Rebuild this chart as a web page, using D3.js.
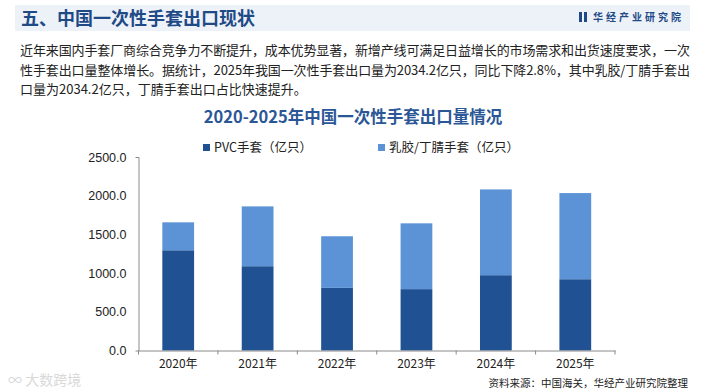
<!DOCTYPE html>
<html><head><meta charset="utf-8">
<script src="https://cdn.jsdelivr.net/npm/d3@7"></script>
<style>
html,body{margin:0;padding:0;background:#fff;}
svg{display:block;}
</style></head>
<body>
<svg id="c" width="705" height="392"></svg>
<script>
const years = ["2020年","2021年","2022年","2023年","2024年","2025年"];
const pvc = [1295, 1089, 809, 793, 973, 921];
const latex = [361, 773, 667, 850, 1108, 1113];
const seriesNames = ["PVC手套（亿只）", "乳胶/丁腈手套（亿只）"];
const yTicks = [0, 500, 1000, 1500, 2000, 2500];
const pageTitle = "五、中国一次性手套出口现状";
const chartTitle = "2020-2025年中国一次性手套出口量情况";
const paragraph = [
  "近年来国内手套厂商综合竞争力不断提升，成本优势显著，新增产线可满足日益增长的市场需求和出货速度要求，一次",
  "性手套出口量整体增长。据统计，2025年我国一次性手套出口量为2034.2亿只，同比下降2.8%，其中乳胶/丁腈手套出",
  "口量为2034.2亿只，丁腈手套出口占比快速提升。"
];
const source = "资料来源：中国海关，华经产业研究院整理";
const colors = ["#205293", "#5B93D6"];

const svg = d3.select("#c");
const cjk = "'Noto Sans CJK SC','Noto Sans',sans-serif";
const lat = "'Liberation Sans',Arial,sans-serif";

// header band
svg.append("rect").attr("x", 15).attr("y", 5).attr("width", 675).attr("height", 26).attr("fill", "#EDF2F9");
svg.append("text").attr("x", 21).attr("y", 25).attr("font-family", cjk).attr("font-weight", "bold")
  .attr("font-size", 18).attr("fill", "#1F4A86").text(pageTitle);
// logo
svg.append("rect").attr("x", 579).attr("y", 12).attr("width", 3).attr("height", 10).attr("fill", "#1F4A86");
svg.append("rect").attr("x", 584).attr("y", 12).attr("width", 3).attr("height", 10).attr("fill", "#1F4A86");
svg.append("text").attr("x", 593).attr("y", 21).attr("font-family", cjk).attr("font-weight", "bold")
  .attr("font-size", 10).attr("fill", "#1F4A86").attr("letter-spacing", 3).text("华经产业研究院");

// paragraph
paragraph.forEach((line, i) => {
  const t = svg.append("text").attr("x", 20).attr("y", 55 + i * 19.5).attr("font-family", cjk)
    .attr("font-size", 13).attr("fill", "#222").text(line);
  if (i < 2) t.attr("textLength", 670).attr("lengthAdjust", "spacing");
});

// chart title
svg.append("text").attr("x", 353).attr("y", 123).attr("text-anchor", "middle").attr("font-family", cjk)
  .attr("font-weight", "bold").attr("font-size", 16.5).attr("fill", "#2B5797").text(chartTitle);

// legend
const legX = [203, 378];
seriesNames.forEach((n, i) => {
  svg.append("rect").attr("x", legX[i]).attr("y", 144).attr("width", 7).attr("height", 7).attr("fill", colors[i]);
  svg.append("text").attr("x", legX[i] + 11).attr("y", 152).attr("font-family", cjk)
    .attr("font-size", 12.5).attr("fill", "#222").text(n);
});

// scales
const x = d3.scaleBand().domain(years).range([138.5, 615]).paddingInner(0.6).paddingOuter(0.3);
const y = d3.scaleLinear().domain([0, 2500]).range([350.5, 157]);

const stackData = years.map((yr, i) => ({year: yr, pvc: pvc[i], latex: latex[i]}));
const stacked = d3.stack().keys(["pvc", "latex"])(stackData);

svg.append("g").selectAll("g").data(stacked).join("g").attr("fill", (d, i) => colors[i])
  .selectAll("rect").data(d => d).join("rect")
  .attr("x", d => x(d.data.year)).attr("width", x.bandwidth())
  .attr("y", d => y(d[1])).attr("height", d => y(d[0]) - y(d[1]));

// y axis
const yAxis = svg.append("g").attr("transform", "translate(138.5,0)")
  .call(d3.axisLeft(y).tickValues(yTicks).tickFormat(d3.format(".1f")).tickSizeInner(0).tickSizeOuter(3).tickPadding(12));
yAxis.select(".domain").attr("stroke", "#8a8a8a");
yAxis.selectAll("text").attr("font-family", lat).attr("font-size", 12.5).attr("fill", "#222");

// x axis
const xAxis = svg.append("g").attr("transform", "translate(0,350.5)")
  .call(d3.axisBottom(x).tickSize(0).tickPadding(9));
xAxis.select(".domain").attr("stroke", "#8a8a8a");
xAxis.selectAll("text").attr("font-family", cjk).attr("font-size", 12).attr("fill", "#222");
const bounds = years.map(v => x(v) - x.step() * x.paddingInner() / 2).concat([615]);
xAxis.selectAll(".bt").data(bounds).join("line").attr("class", "bt")
  .attr("x1", d => d).attr("x2", d => d).attr("y1", 0).attr("y2", 4).attr("stroke", "#8a8a8a");

// source
svg.append("text").attr("x", 688).attr("y", 387).attr("text-anchor", "end").attr("font-family", cjk)
  .attr("font-size", 10.5).attr("fill", "#222").text(source);

// faint bottom-left logo
svg.append("text").attr("x", 8).attr("y", 385).attr("font-family", cjk).attr("font-size", 14)
  .attr("fill", "#d9d9d9").text("∞ 大数跨境");
</script>
</body></html>
